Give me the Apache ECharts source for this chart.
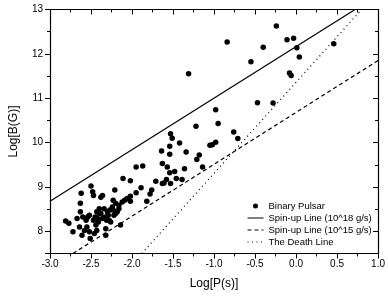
<!DOCTYPE html>
<html>
<head>
<meta charset="utf-8">
<script src="https://cdn.jsdelivr.net/npm/echarts@6/dist/echarts.min.js"></script>
<style>
  html, body { margin: 0; padding: 0; background: #fff; }
  #pulsar-chart { width: 388px; height: 297px; }
</style>
</head>
<body>
<div id="pulsar-chart"></div>

<script type="application/javascript">
// binary pulsars
var pulsarLogP = [
  -2.81, -2.77, -2.72, -2.67, -2.63, -2.64, -2.63, -2.62, -2.60, -2.61,
  -2.56, -2.58, -2.55, -2.52, -2.50, -2.51, -2.52, -2.48, -2.47, -2.47,
  -2.46, -2.45, -2.44, -2.43, -2.43, -2.42, -2.41, -2.40, -2.40, -2.38,
  -2.38, -2.36, -2.36, -2.34, -2.33, -2.32, -2.31, -2.30, -2.29, -2.27,
  -2.26, -2.24, -2.23, -2.22, -2.21, -2.20, -2.18, -2.16, -2.14, -2.12,
  -2.11, -2.09, -2.06, -2.32, -2.28, -2.23, -2.16, -2.20, -2.54,
  -1.22, -1.53, -1.51, -1.42, -1.54, -1.64, -1.34, -1.54, -1.21, -1.63,
  -1.95, -1.87, -1.57, -1.36, -1.54, -1.48, -2.02, -1.71, -1.61, -1.58,
  -1.46, -1.39, -1.53, -1.63, -1.89, -1.95, -1.76, -1.78, -2.02, -2.02,
  -1.82,
  -0.55, -1.31, -0.47, -0.28, -0.98, -0.95, -0.76, -0.71, -0.98, -1.02,
  -1.05, -1.18, -1.14,
  -0.24, -0.40, -0.11, -0.03, 0.01, 0.04, 0.46, -0.08, -0.06, -0.84
];
var pulsarLogB = [
  8.23, 8.18, 7.99, 8.29, 8.44, 8.10, 8.63, 8.86, 8.32, 7.91,
  8.25, 8.02, 8.10, 8.36, 9.02, 7.84, 7.99, 8.89, 8.81, 8.25,
  7.95, 8.32, 8.14, 8.44, 8.02, 8.29, 8.21, 8.51, 8.40, 8.77,
  8.40, 8.81, 8.29, 8.51, 8.32, 7.91, 8.25, 8.44, 8.36, 8.48,
  8.21, 8.55, 8.70, 8.36, 8.93, 8.63, 8.44, 8.59, 8.14, 8.66,
  9.19, 8.70, 8.74, 8.06, 8.25, 8.48, 8.51, 8.40, 8.32,
  10.37, 10.20, 10.10, 9.99, 9.92, 9.81, 9.79, 9.74, 9.62, 9.53,
  9.45, 9.47, 9.45, 9.41, 9.32, 9.35, 9.14, 9.13, 9.09, 9.17,
  9.19, 9.17, 9.08, 9.08, 8.98, 8.87, 8.93, 8.84, 8.79, 8.68,
  8.68,
  11.82, 11.55, 10.90, 10.89, 10.74, 10.43, 10.24, 10.09, 10.01, 9.95,
  9.94, 9.72, 9.45,
  12.63, 12.15, 12.32, 12.35, 12.14, 11.93, 12.23, 11.57, 11.51, 12.27
];

// end points of the three reference lines
var spinUp18P = [-3.0, 0.72];
var spinUp18B = [8.68, 13.0];
var spinUp15P = [-2.72, 1.0];
var spinUp15B = [7.5, 11.85];
var deathP = [-1.88, 0.80];
var deathB = [7.5, 13.0];

var xTicks = ['-3.0', '-2.5', '-2.0', '-1.5', '-1.0', '-0.5', '0.0', '0.5', '1.0'];

function zip(a, b) {
  var out = [];
  for (var i = 0; i < a.length; i++) out.push([a[i], b[i]]);
  return out;
}

var chartDom = document.getElementById('pulsar-chart');
var myChart = echarts.init(chartDom);
var font = 'Liberation Sans';

var baseX = {
  type: 'value', min: -3, max: 1, interval: 0.5,
  axisLine: { show: true, onZero: false, lineStyle: { color: '#000', width: 1.2 } },
  splitLine: { show: false }
};
// no interval here: min 7.5 is not a multiple of 1, ticks land on 8..13 by themselves
var baseY = {
  type: 'value', min: 7.5, max: 13, splitNumber: 5,
  axisLine: { show: true, onZero: false, lineStyle: { color: '#000', width: 1.2 } },
  splitLine: { show: false }
};

// line series get a dot in their legend icon, hide it
var noDot = { color: 'rgba(0,0,0,0)', borderWidth: 0 };

var option = {
  backgroundColor: '#fff',
  animation: false,
  textStyle: { fontFamily: font },
  grid: { left: 50, right: 5, top: 9.5, bottom: 43.5 },
  legend: {
    left: 242, top: 196,
    orient: 'vertical',
    itemWidth: 16, itemHeight: 5, itemGap: 2,
    textStyle: { fontFamily: font, fontSize: 9.5, color: '#000' },
    data: [
      { name: 'Binary Pulsar', icon: 'circle' },
      { name: 'Spin-up Line (10^18 g/s)', lineStyle: { width: 1 }, itemStyle: noDot },
      { name: 'Spin-up Line (10^15 g/s)', lineStyle: { width: 1 }, itemStyle: noDot },
      { name: 'The Death Line', lineStyle: { width: 1 }, itemStyle: noDot }
    ]
  },
  xAxis: [
    Object.assign({}, baseX, {
      position: 'bottom',
      name: 'Log[P(s)]', nameLocation: 'middle', nameGap: 24,
      nameTextStyle: { fontFamily: font, fontSize: 12, color: '#000' },
      axisTick: { show: true, inside: false, length: 5, lineStyle: { color: '#000' } },
      minorTick: { show: true, splitNumber: 2, length: 3, lineStyle: { color: '#000' } },
      axisLabel: {
        margin: 6, fontSize: 10, color: '#000', fontFamily: font,
        formatter: function (v) { return xTicks[Math.round((v + 3) / 0.5)]; }
      }
    }),
    Object.assign({}, baseX, {
      position: 'top',
      axisTick: { show: true, inside: true, length: 5, lineStyle: { color: '#000' } },
      minorTick: { show: true, splitNumber: 2, length: 3, lineStyle: { color: '#000' } },
      axisLabel: { show: false }
    })
  ],
  yAxis: [
    Object.assign({}, baseY, {
      position: 'left',
      name: 'Log[B(G)]', nameLocation: 'middle', nameGap: 30,
      nameTextStyle: { fontFamily: font, fontSize: 12, color: '#000' },
      axisTick: { show: true, inside: false, length: 5, lineStyle: { color: '#000' } },
      minorTick: { show: true, splitNumber: 2, length: 3, lineStyle: { color: '#000' } },
      axisLabel: {
        margin: 7, fontSize: 10, color: '#000', fontFamily: font,
        showMinLabel: false
      }
    }),
    Object.assign({}, baseY, {
      position: 'right',
      axisTick: { show: true, inside: true, length: 5, lineStyle: { color: '#000' } },
      minorTick: { show: true, splitNumber: 2, length: 3, lineStyle: { color: '#000' } },
      axisLabel: { show: false }
    })
  ],
  series: [
    {
      name: 'Binary Pulsar',
      type: 'scatter',
      symbol: 'circle',
      symbolSize: 5.5,
      itemStyle: { color: '#000', opacity: 1 },
      data: zip(pulsarLogP, pulsarLogB)
    },
    {
      name: 'Spin-up Line (10^18 g/s)',
      type: 'line', symbol: 'none', clip: true,
      lineStyle: { color: '#000', width: 1.2, type: 'solid' },
      itemStyle: { color: '#000' },
      data: zip(spinUp18P, spinUp18B)
    },
    {
      name: 'Spin-up Line (10^15 g/s)',
      type: 'line', symbol: 'none', clip: true,
      lineStyle: { color: '#000', width: 1.2, type: [4, 3] },
      itemStyle: { color: '#000' },
      data: zip(spinUp15P, spinUp15B)
    },
    {
      name: 'The Death Line',
      type: 'line', symbol: 'none', clip: true,
      lineStyle: { color: '#000', width: 1.2, type: [1, 3.5] },
      itemStyle: { color: '#000' },
      data: zip(deathP, deathB)
    }
  ]
};

option && myChart.setOption(option);
</script>
</body>
</html>
